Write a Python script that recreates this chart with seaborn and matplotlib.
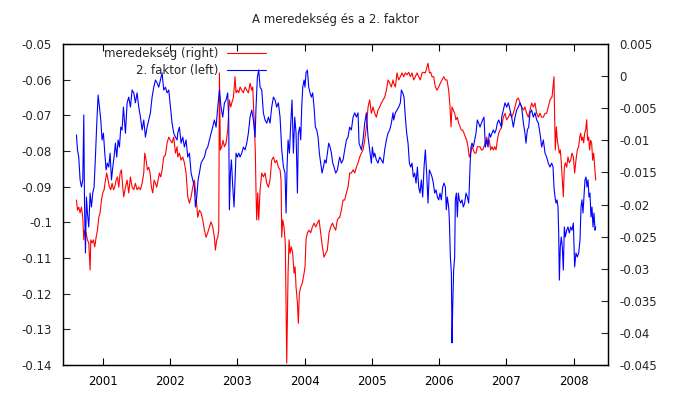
import matplotlib
matplotlib.use("Agg")
import matplotlib.pyplot as plt
import seaborn as sns
import pandas as pd
from matplotlib.ticker import FixedLocator, FuncFormatter

# ---------------- data ----------------
title = "A meredekség és a 2. faktor"
label_slope = "meredekség (right)"
label_factor = "2. faktor (left)"

# 2. faktor (left axis): decimal year, value
factor_year = [
    2000.610, 2000.625, 2000.644, 2000.664, 2000.684, 2000.704, 2000.719, 2000.729, 2000.744, 2000.758, 2000.773, 2000.793, 2000.813, 2000.833, 2000.852, 2000.872, 2000.892, 2000.912, 2000.932, 2000.952, 2000.971, 2000.991,
    2001.011, 2001.031, 2001.051, 2001.070, 2001.090, 2001.110, 2001.130, 2001.150, 2001.169, 2001.189, 2001.209, 2001.229, 2001.249, 2001.269, 2001.288, 2001.308,
    2001.338, 2001.363, 2001.387, 2001.412, 2001.437, 2001.462, 2001.486, 2001.511, 2001.536, 2001.561, 2001.586, 2001.610, 2001.635, 2001.660, 2001.685, 2001.709, 2001.734, 2001.759, 2001.784, 2001.808, 2001.833, 2001.858, 2001.883, 2001.907, 2001.932, 2001.957, 2001.982,
    2002.007, 2002.031, 2002.056, 2002.081, 2002.106,
    2002.115, 2002.140, 2002.165, 2002.190, 2002.214, 2002.239, 2002.264, 2002.289, 2002.314, 2002.338, 2002.363, 2002.378, 2002.398, 2002.418, 2002.437, 2002.462, 2002.487, 2002.512, 2002.536, 2002.561, 2002.586, 2002.611, 2002.635, 2002.660, 2002.685, 2002.710, 2002.735, 2002.759, 2002.784, 2002.809, 2002.834, 2002.858, 2002.873, 2002.883, 2002.898, 2002.913,
    2002.933, 2002.952, 2002.967, 2002.982, 2003.002, 2003.022, 2003.042, 2003.066, 2003.091, 2003.116, 2003.141, 2003.165, 2003.190, 2003.215, 2003.240, 2003.265, 2003.279, 2003.299, 2003.319, 2003.339, 2003.364, 2003.388, 2003.413, 2003.438, 2003.463, 2003.487, 2003.512, 2003.537, 2003.562, 2003.586, 2003.611, 2003.636, 2003.661, 2003.686, 2003.710,
    2003.725, 2003.740, 2003.755, 2003.775, 2003.795, 2003.814, 2003.834, 2003.854, 2003.874, 2003.894, 2003.908, 2003.928, 2003.943, 2003.958, 2003.973, 2003.993,
    2004.007, 2004.022, 2004.042, 2004.062, 2004.082, 2004.102, 2004.121, 2004.141, 2004.161, 2004.181, 2004.201, 2004.220, 2004.240, 2004.260, 2004.280, 2004.300, 2004.320, 2004.339, 2004.359, 2004.379, 2004.399, 2004.419, 2004.438, 2004.463, 2004.488, 2004.513,
    2004.523, 2004.547, 2004.572, 2004.597, 2004.622, 2004.646, 2004.671, 2004.696, 2004.721, 2004.746, 2004.770, 2004.795, 2004.810, 2004.830, 2004.845, 2004.869, 2004.894, 2004.919, 2004.944, 2004.968, 2004.993,
    2005.008, 2005.028, 2005.043, 2005.067, 2005.092, 2005.117, 2005.142, 2005.167, 2005.191, 2005.216, 2005.241, 2005.266, 2005.290, 2005.315,
    2005.325, 2005.350, 2005.374, 2005.399, 2005.424, 2005.439, 2005.459, 2005.478, 2005.498, 2005.518, 2005.538, 2005.558, 2005.578, 2005.597, 2005.617, 2005.637, 2005.657, 2005.677, 2005.696, 2005.716, 2005.736, 2005.756, 2005.776, 2005.795, 2005.815, 2005.835, 2005.855, 2005.875, 2005.895, 2005.914, 2005.934, 2005.954, 2005.974, 2005.994,
    2006.013, 2006.033, 2006.053, 2006.073, 2006.093, 2006.107, 2006.122,
    2006.142, 2006.152, 2006.167, 2006.182, 2006.192, 2006.202, 2006.216, 2006.231, 2006.241, 2006.256, 2006.271, 2006.286, 2006.301, 2006.320, 2006.340, 2006.360, 2006.380, 2006.400, 2006.420, 2006.439, 2006.449, 2006.459, 2006.474, 2006.489, 2006.509, 2006.529, 2006.548, 2006.568, 2006.588, 2006.608, 2006.628, 2006.647, 2006.667, 2006.687, 2006.707, 2006.727, 2006.746, 2006.766, 2006.786, 2006.806, 2006.826, 2006.846, 2006.865, 2006.885, 2006.905, 2006.925,
    2006.930, 2006.954, 2006.979,
    2007.004, 2007.029, 2007.054, 2007.078, 2007.103, 2007.128, 2007.153, 2007.177, 2007.202, 2007.227, 2007.252, 2007.276, 2007.291, 2007.311, 2007.331, 2007.351, 2007.375, 2007.400, 2007.425, 2007.450, 2007.475, 2007.499, 2007.524, 2007.549, 2007.574, 2007.598, 2007.623, 2007.648, 2007.673,
    2007.693, 2007.707, 2007.722, 2007.737, 2007.752, 2007.767, 2007.777, 2007.787, 2007.801, 2007.816, 2007.831, 2007.846, 2007.861, 2007.876, 2007.896, 2007.915, 2007.935, 2007.955, 2007.975, 2007.995,
    2008.005, 2008.014, 2008.034, 2008.054, 2008.074, 2008.094, 2008.109, 2008.123, 2008.138, 2008.153, 2008.168, 2008.183, 2008.198, 2008.213, 2008.227, 2008.242, 2008.257, 2008.272, 2008.287, 2008.302, 2008.317, 2008.327,
]
factor_value = [
    -0.0755, -0.0797, -0.0817, -0.0881, -0.0901, -0.0881, -0.0699, -0.0937, -0.1086, -0.0929, -0.0974, -0.1013, -0.0918, -0.0957, -0.0918, -0.0901, -0.0817, -0.0722, -0.0643, -0.0677, -0.0713, -0.0769,
    -0.0750, -0.0806, -0.0853, -0.0834, -0.0845, -0.0806, -0.0881, -0.0845, -0.0817, -0.0778, -0.0817, -0.0769, -0.0789, -0.0733, -0.0741, -0.0677,
    -0.0750, -0.0665, -0.0649, -0.0677, -0.0629, -0.0637, -0.0665, -0.0637, -0.0677, -0.0705, -0.0741, -0.0713, -0.0761, -0.0733, -0.0713, -0.0693, -0.0649, -0.0621, -0.0601, -0.0609, -0.0621, -0.0601, -0.0581, -0.0629, -0.0621, -0.0637, -0.0629,
    -0.0677, -0.0722, -0.0750, -0.0761, -0.0769,
    -0.0750, -0.0733, -0.0778, -0.0761, -0.0789, -0.0769, -0.0817, -0.0806, -0.0862, -0.0881, -0.0901, -0.0957, -0.0929, -0.0881, -0.0862, -0.0834, -0.0825, -0.0817, -0.0797, -0.0789, -0.0769, -0.0750, -0.0733, -0.0713, -0.0733, -0.0677, -0.0629, -0.0677, -0.0705, -0.0665, -0.0657, -0.0637, -0.0713, -0.0965, -0.0862, -0.0825,
    -0.0901, -0.0957, -0.0881, -0.0806, -0.0817, -0.0806, -0.0817, -0.0806, -0.0789, -0.0797, -0.0778, -0.0750, -0.0705, -0.0685, -0.0713, -0.0761, -0.0677, -0.0593, -0.0573, -0.0621, -0.0629, -0.0693, -0.0713, -0.0722, -0.0705, -0.0722, -0.0677, -0.0649, -0.0657, -0.0677, -0.0665, -0.0705, -0.0797, -0.0845, -0.0862,
    -0.0974, -0.0845, -0.0769, -0.0806, -0.0722, -0.0657, -0.0806, -0.0705, -0.0750, -0.0918, -0.0750, -0.0733, -0.0769, -0.0677, -0.0621, -0.0601,
    -0.0621, -0.0581, -0.0573, -0.0621, -0.0637, -0.0649, -0.0637, -0.0677, -0.0733, -0.0741, -0.0761, -0.0806, -0.0834, -0.0862, -0.0845, -0.0825, -0.0834, -0.0806, -0.0778, -0.0789, -0.0806, -0.0834, -0.0845, -0.0862, -0.0853, -0.0825,
    -0.0817, -0.0834, -0.0825, -0.0797, -0.0769, -0.0761, -0.0733, -0.0741, -0.0705, -0.0693, -0.0705, -0.0693, -0.0778, -0.0789, -0.0797, -0.0769, -0.0722, -0.0693, -0.0761, -0.0797, -0.0834,
    -0.0789, -0.0817, -0.0806, -0.0825, -0.0834, -0.0817, -0.0825, -0.0834, -0.0797, -0.0769, -0.0750, -0.0741, -0.0722, -0.0693,
    -0.0713, -0.0693, -0.0685, -0.0677, -0.0665, -0.0629, -0.0637, -0.0649, -0.0705, -0.0750, -0.0778, -0.0834, -0.0845, -0.0834, -0.0873, -0.0862, -0.0890, -0.0845, -0.0901, -0.0918, -0.0881, -0.0929, -0.0845, -0.0797, -0.0862, -0.0946, -0.0853, -0.0862, -0.0873, -0.0890, -0.0918, -0.0909, -0.0929, -0.0937,
    -0.0918, -0.0937, -0.0901, -0.0890, -0.0901, -0.0965, -0.0929,
    -0.0957, -0.0993, -0.1097, -0.1142, -0.1338, -0.1237, -0.1134, -0.1097, -0.0937, -0.0918, -0.0985, -0.0918, -0.0937, -0.0946, -0.0937, -0.0957, -0.0946, -0.0918, -0.0929, -0.0946, -0.0901, -0.0845, -0.0789, -0.0778, -0.0789, -0.0769, -0.0750, -0.0713, -0.0722, -0.0733, -0.0722, -0.0713, -0.0705, -0.0789, -0.0769, -0.0789, -0.0750, -0.0761, -0.0750, -0.0741, -0.0750, -0.0741, -0.0722, -0.0713, -0.0722, -0.0733,
    -0.0705, -0.0685, -0.0665,
    -0.0677, -0.0665, -0.0685, -0.0705, -0.0733, -0.0705, -0.0685, -0.0677, -0.0665, -0.0677, -0.0722, -0.0750, -0.0778, -0.0741, -0.0733, -0.0693, -0.0685, -0.0705, -0.0693, -0.0713, -0.0722, -0.0750, -0.0789, -0.0769, -0.0806, -0.0817, -0.0834, -0.0845, -0.0834,
    -0.0845, -0.0901, -0.0929, -0.0946, -0.0937, -0.0957, -0.1030, -0.1162, -0.1069, -0.1041, -0.1069, -0.1134, -0.1013, -0.1041, -0.1022, -0.1013, -0.1030, -0.1013, -0.1022, -0.1002,
    -0.1069, -0.1125, -0.1086, -0.1097, -0.1086, -0.1050, -0.0957, -0.0937, -0.0974, -0.0929, -0.0881, -0.0873, -0.0901, -0.0881, -0.0929, -0.0918, -0.0985, -0.0957, -0.1013, -0.0974, -0.1022, -0.1013,
]

# meredekség (right axis): decimal year, value
slope_year = [
    2000.610, 2000.625, 2000.644, 2000.664, 2000.684, 2000.704, 2000.719, 2000.734, 2000.753, 2000.773, 2000.793, 2000.813, 2000.823, 2000.843, 2000.862, 2000.882, 2000.902, 2000.922, 2000.942, 2000.961, 2000.981,
    2001.001, 2001.021, 2001.041, 2001.060, 2001.080, 2001.100, 2001.120, 2001.140, 2001.160, 2001.179, 2001.199, 2001.219, 2001.239, 2001.259, 2001.278, 2001.298,
    2001.313, 2001.338, 2001.363, 2001.387, 2001.412, 2001.437, 2001.462, 2001.486, 2001.511, 2001.536, 2001.561, 2001.586, 2001.610, 2001.625, 2001.645, 2001.665, 2001.685, 2001.704, 2001.724, 2001.744, 2001.764, 2001.784, 2001.803, 2001.823, 2001.843, 2001.863, 2001.883, 2001.907, 2001.932, 2001.957, 2001.982,
    2002.007, 2002.031, 2002.056, 2002.081, 2002.106,
    2002.115, 2002.140, 2002.165, 2002.190, 2002.214, 2002.239, 2002.264, 2002.289, 2002.314, 2002.338, 2002.363, 2002.388, 2002.413, 2002.437, 2002.462, 2002.487, 2002.512, 2002.536, 2002.561, 2002.586, 2002.611, 2002.635, 2002.660, 2002.675, 2002.695, 2002.710, 2002.725, 2002.735, 2002.749, 2002.769, 2002.789, 2002.809, 2002.834, 2002.858, 2002.883, 2002.903,
    2002.918, 2002.943, 2002.967, 2002.982,
    2003.002, 2003.022, 2003.042, 2003.066, 2003.091, 2003.116, 2003.141, 2003.165, 2003.190, 2003.215, 2003.230, 2003.240, 2003.255, 2003.269, 2003.279, 2003.289, 2003.304, 2003.319, 2003.339, 2003.364, 2003.388, 2003.413, 2003.438, 2003.463, 2003.487, 2003.512, 2003.537, 2003.562, 2003.586, 2003.611, 2003.636, 2003.651, 2003.661, 2003.676, 2003.695, 2003.710,
    2003.715, 2003.735, 2003.755, 2003.770, 2003.785, 2003.804, 2003.824, 2003.844, 2003.859, 2003.874, 2003.894, 2003.908, 2003.923, 2003.943, 2003.968, 2003.993,
    2004.007, 2004.022, 2004.042, 2004.067, 2004.092, 2004.116, 2004.141, 2004.166, 2004.191, 2004.216, 2004.240, 2004.265, 2004.290, 2004.315, 2004.339, 2004.364, 2004.389, 2004.414, 2004.438, 2004.463, 2004.488, 2004.513,
    2004.523, 2004.547, 2004.572, 2004.597, 2004.622, 2004.646, 2004.671, 2004.696, 2004.721, 2004.746, 2004.770, 2004.795, 2004.820, 2004.845, 2004.869, 2004.894, 2004.919, 2004.944, 2004.968, 2004.993,
    2005.018, 2005.043, 2005.067, 2005.092, 2005.117, 2005.142, 2005.167, 2005.191, 2005.216, 2005.241, 2005.266, 2005.290, 2005.315,
    2005.325, 2005.350, 2005.374, 2005.399, 2005.424, 2005.449, 2005.474, 2005.498, 2005.523, 2005.548, 2005.573, 2005.597, 2005.622, 2005.647, 2005.672, 2005.696, 2005.721, 2005.746, 2005.771, 2005.795, 2005.820, 2005.835, 2005.855, 2005.875, 2005.895, 2005.919, 2005.944, 2005.969, 2005.994,
    2006.018, 2006.043, 2006.068, 2006.093, 2006.117,
    2006.142, 2006.162, 2006.177, 2006.192, 2006.212, 2006.231, 2006.251, 2006.271, 2006.291, 2006.311, 2006.330, 2006.350, 2006.370, 2006.390, 2006.410, 2006.429, 2006.449, 2006.469, 2006.489, 2006.509, 2006.529, 2006.548, 2006.568, 2006.588, 2006.608, 2006.628, 2006.647, 2006.667, 2006.687, 2006.707, 2006.727, 2006.746, 2006.766, 2006.786, 2006.806, 2006.826, 2006.846, 2006.865, 2006.885, 2006.905, 2006.925,
    2006.930, 2006.954, 2006.979,
    2007.004, 2007.029, 2007.054, 2007.078, 2007.103, 2007.128, 2007.153, 2007.177, 2007.202, 2007.227, 2007.252, 2007.276, 2007.301, 2007.326, 2007.351, 2007.375, 2007.400, 2007.425, 2007.450, 2007.475, 2007.499, 2007.524, 2007.549, 2007.574, 2007.598, 2007.623, 2007.648, 2007.673,
    2007.678, 2007.693, 2007.707, 2007.717, 2007.727, 2007.742, 2007.757, 2007.772, 2007.787, 2007.801, 2007.816, 2007.831, 2007.846, 2007.861, 2007.876, 2007.896, 2007.915, 2007.935, 2007.955, 2007.975, 2007.995,
    2008.014, 2008.034, 2008.054, 2008.074, 2008.089, 2008.104, 2008.118, 2008.133, 2008.148, 2008.163, 2008.178, 2008.193, 2008.208, 2008.223, 2008.237, 2008.252, 2008.267, 2008.282, 2008.297, 2008.312, 2008.327,
]
slope_value = [
    -0.0193, -0.0209, -0.0204, -0.0213, -0.0204, -0.0220, -0.0255, -0.0240, -0.0244, -0.0255, -0.0260, -0.0302, -0.0255, -0.0260, -0.0255, -0.0266, -0.0251, -0.0240, -0.0220, -0.0213, -0.0193,
    -0.0182, -0.0177, -0.0162, -0.0151, -0.0162, -0.0173, -0.0177, -0.0167, -0.0177, -0.0173, -0.0162, -0.0157, -0.0173, -0.0151, -0.0146, -0.0173,
    -0.0188, -0.0173, -0.0162, -0.0182, -0.0157, -0.0173, -0.0177, -0.0167, -0.0177, -0.0173, -0.0177, -0.0167, -0.0151, -0.0120, -0.0131, -0.0146, -0.0142, -0.0151, -0.0173, -0.0182, -0.0162, -0.0167, -0.0173, -0.0162, -0.0151, -0.0157, -0.0146, -0.0126, -0.0123, -0.0104, -0.0095,
    -0.0100, -0.0104, -0.0095, -0.0120, -0.0110,
    -0.0126, -0.0120, -0.0131, -0.0126, -0.0135, -0.0151, -0.0188, -0.0198, -0.0188, -0.0173, -0.0162, -0.0188, -0.0220, -0.0209, -0.0213, -0.0224, -0.0240, -0.0251, -0.0244, -0.0235, -0.0227, -0.0235, -0.0251, -0.0271, -0.0255, -0.0251, -0.0240, 0.0005, -0.0115, -0.0110, -0.0100, -0.0110, -0.0104, -0.0084, -0.0037, -0.0048,
    -0.0042, -0.0033, -0.0001, -0.0026,
    -0.0022, -0.0026, -0.0017, -0.0022, -0.0026, -0.0017, -0.0022, -0.0026, -0.0011, -0.0022, -0.0017, -0.0042, -0.0079, -0.0120, -0.0182, -0.0224, -0.0182, -0.0224, -0.0177, -0.0151, -0.0157, -0.0151, -0.0167, -0.0173, -0.0162, -0.0131, -0.0126, -0.0135, -0.0131, -0.0142, -0.0146, -0.0162, -0.0251, -0.0224, -0.0235, -0.0255,
    -0.0266, -0.0447, -0.0307, -0.0255, -0.0276, -0.0266, -0.0276, -0.0307, -0.0297, -0.0329, -0.0353, -0.0385, -0.0338, -0.0329, -0.0322, -0.0307,
    -0.0297, -0.0255, -0.0244, -0.0240, -0.0244, -0.0235, -0.0229, -0.0235, -0.0229, -0.0224, -0.0244, -0.0266, -0.0282, -0.0276, -0.0271, -0.0244, -0.0235, -0.0229, -0.0235, -0.0240, -0.0224, -0.0220,
    -0.0220, -0.0209, -0.0193, -0.0193, -0.0182, -0.0173, -0.0151, -0.0151, -0.0146, -0.0151, -0.0142, -0.0135, -0.0126, -0.0120, -0.0115, -0.0100, -0.0079, -0.0048, -0.0037, -0.0058,
    -0.0048, -0.0058, -0.0064, -0.0053, -0.0048, -0.0042, -0.0037, -0.0033, -0.0022, -0.0006, -0.0011, -0.0017, -0.0006,
    -0.0011, -0.0017, 0.0005, -0.0006, -0.0001, 0.0005, -0.0001, 0.0005, 0.0002, 0.0006, -0.0001, 0.0005, -0.0006, -0.0001, 0.0005, -0.0001, -0.0006, 0.0005, 0.0006, 0.0005, 0.0014, 0.0020, 0.0005, 0.0006, -0.0001, -0.0001, -0.0017, -0.0022, -0.0017,
    -0.0011, -0.0006, -0.0001, -0.0006, -0.0006,
    -0.0022, -0.0048, -0.0079, -0.0048, -0.0053, -0.0058, -0.0068, -0.0064, -0.0073, -0.0079, -0.0084, -0.0084, -0.0089, -0.0095, -0.0100, -0.0110, -0.0126, -0.0120, -0.0110, -0.0115, -0.0120, -0.0120, -0.0110, -0.0110, -0.0110, -0.0115, -0.0115, -0.0110, -0.0104, -0.0095, -0.0104, -0.0100, -0.0115, -0.0110, -0.0115, -0.0110, -0.0115, -0.0100, -0.0089, -0.0084, -0.0081,
    -0.0079, -0.0064, -0.0058,
    -0.0068, -0.0064, -0.0058, -0.0064, -0.0058, -0.0048, -0.0037, -0.0034, -0.0042, -0.0048, -0.0053, -0.0048, -0.0058, -0.0064, -0.0053, -0.0042, -0.0048, -0.0042, -0.0058, -0.0064, -0.0058, -0.0064, -0.0064, -0.0058, -0.0058, -0.0048, -0.0037, -0.0033,
    -0.0033, -0.0017, -0.0001, -0.0064, -0.0115, -0.0079, -0.0100, -0.0110, -0.0120, -0.0115, -0.0135, -0.0162, -0.0188, -0.0142, -0.0135, -0.0142, -0.0126, -0.0135, -0.0131, -0.0120, -0.0126,
    -0.0151, -0.0131, -0.0115, -0.0110, -0.0095, -0.0089, -0.0100, -0.0095, -0.0104, -0.0089, -0.0084, -0.0068, -0.0100, -0.0095, -0.0115, -0.0100, -0.0104, -0.0131, -0.0120, -0.0142, -0.0162,
]

year_ticks = [2001, 2002, 2003, 2004, 2005, 2006, 2007, 2008]
year_labels = ["2001", "2002", "2003", "2004", "2005", "2006", "2007", "2008"]
left_ticks = [-0.14, -0.13, -0.12, -0.11, -0.10, -0.09, -0.08, -0.07, -0.06, -0.05]
right_ticks = [-0.045, -0.04, -0.035, -0.03, -0.025, -0.02, -0.015, -0.01, -0.005, 0.0, 0.005]

assert len(factor_year) == len(factor_value), (len(factor_year), len(factor_value))
assert len(slope_year) == len(slope_value), (len(slope_year), len(slope_value))

factor_df = pd.DataFrame({"year": factor_year, "value": factor_value})
slope_df = pd.DataFrame({"year": slope_year, "value": slope_value})

# ---------------- style ----------------
sns.set_style("white")
plt.rcParams["font.family"] = ["DejaVu Sans"]
plt.rcParams["font.size"] = 8.5

fig = plt.figure(figsize=(6.8, 4.0), dpi=100)
fig.patch.set_facecolor("white")
ax = fig.add_axes([63 / 680, 35 / 400, 545 / 680, 321 / 400])
ax2 = ax.twinx()

sns.lineplot(data=slope_df, x="year", y="value", ax=ax2, color="#ff0000",
             linewidth=0.8, estimator=None, sort=False, legend=False)
sns.lineplot(data=factor_df, x="year", y="value", ax=ax, color="#0000ff",
             linewidth=0.8, estimator=None, sort=False, legend=False)

# blue drawn above red
ax.set_zorder(ax2.get_zorder() + 1)
ax.patch.set_visible(False)

ax.set_xlim(2000.41, 2008.51)
ax.set_ylim(-0.14, -0.05)
ax2.set_ylim(-0.045, 0.005)

fmt = FuncFormatter(lambda v, p: f"{round(v, 4) + 0:g}")
ax.xaxis.set_major_locator(FixedLocator(year_ticks))
ax.set_xticklabels(year_labels)
ax.yaxis.set_major_locator(FixedLocator(left_ticks))
ax.yaxis.set_major_formatter(fmt)
ax2.yaxis.set_major_locator(FixedLocator(right_ticks))
ax2.yaxis.set_major_formatter(fmt)

ax.set_xlabel("")
ax.set_ylabel("")
ax2.set_ylabel("")

ax.tick_params(axis="x", direction="in", length=5, width=0.8, top=True, bottom=True,
               pad=7, labelsize=8.5, colors="black")
ax.tick_params(axis="y", direction="in", length=5, width=0.8, left=True, right=False,
               pad=8, labelsize=8.5)
ax2.tick_params(axis="y", direction="in", length=5, width=0.8, right=True, left=False,
                pad=8, labelsize=8.5)

for a in (ax, ax2):
    for s in a.spines.values():
        s.set_color("black")
        s.set_linewidth(0.9)

handles = [ax2.get_lines()[0], ax.get_lines()[0]]
ax.legend(handles, [label_slope, label_factor], loc="upper right",
          bbox_to_anchor=(0.378, 1.0), markerfirst=False, frameon=False,
          fontsize=8.5, handlelength=3.3, handletextpad=0.7,
          labelspacing=0.35, borderpad=0.25, borderaxespad=0.0)

fig.text(336 / 680, 1 - 19 / 400, title, ha="center", va="center", fontsize=8.5)

fig.savefig("out.png", dpi=100, facecolor="white")
